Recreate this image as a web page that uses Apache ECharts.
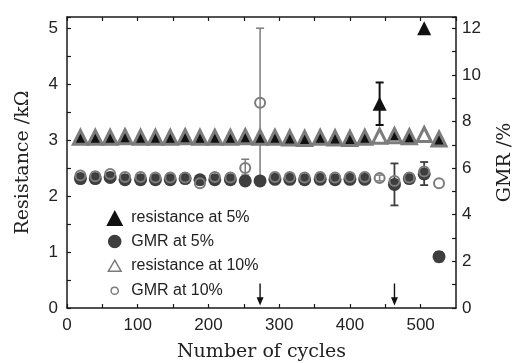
<!DOCTYPE html>
<html>
<head>
<meta charset="utf-8">
<script src="https://cdn.jsdelivr.net/npm/echarts@6/dist/echarts.min.js"></script>
<style>
  html, body { margin: 0; padding: 0; background: #fff; }
  #main { width: 516px; height: 363px; }
</style>
</head>
<body>
<div id="main"></div>
<script>
// cycle numbers of the measured points
const cycles = [19, 40, 61, 82, 104, 125, 146, 167, 188, 209, 231, 252, 273,
  294, 315, 336, 358, 379, 400, 421, 442, 463, 484, 505, 526];

// resistance (kOhm, left axis)
const res5 = [3.05, 3.05, 3.05, 3.06, 3.05, 3.05, 3.05, 3.06, 3.05, 3.05, 3.05, 3.06, 3.05,
  3.05, 3.04, 3.03, 3.05, 3.04, 3.03, 3.05, 3.65, 3.12, 3.06, 5.0, 3.0];
const res10 = [3.05, 3.05, 3.05, 3.06, 3.05, 3.05, 3.05, 3.06, 3.05, 3.05, 3.05, 3.06, 3.05,
  3.05, 3.04, 3.03, 3.05, 3.04, 3.03, 3.05, 3.07, 3.08, 3.06, 3.1, 3.02];

// GMR (%, right axis)
const gmr5 = [5.55, 5.55, 5.6, 5.5, 5.5, 5.5, 5.5, 5.55, 5.5, 5.5, 5.5, 5.45, 5.45,
  5.52, 5.52, 5.5, 5.52, 5.5, 5.52, 5.52, null, 5.3, 5.55, 5.75, 2.2];
const gmr10 = [5.68, 5.65, 5.75, 5.62, 5.62, 5.6, 5.6, 5.6, 5.35, 5.62, 5.6, 6.0, 8.8,
  5.62, 5.62, 5.6, 5.62, 5.6, 5.62, 5.62, 5.57, 5.45, 5.6, 5.85, 5.35];

// error bars: [cycle, low, high]
const res5Err = [[442, 3.27, 4.03]];
const gmr5Err = [[463, 4.4, 6.2], [505, 5.27, 6.26], [526, 2.0, 2.4]];
const gmr10Err = [[252, 5.7, 6.38], [273, 5.6, 12.0], [442, 5.45, 5.7]];

// arrows under the plot
const arrowCycles = [273, 463];

const xTicks = [0, 100, 200, 300, 400, 500];

const names = ['resistance at 5%', 'GMR at 5%', 'resistance at 10%', 'GMR at 10%'];

const grey = '#7c7c7c';
const dark = '#3e3e3e';
const ink = '#1a1a1a';

function pairs(ys) {
  return cycles.map((c, i) => [c, ys[i]]);
}

function errBar(color, width, cap) {
  return function (params, api) {
    const x = api.value(0);
    const a = api.coord([x, api.value(1)]);
    const b = api.coord([x, api.value(2)]);
    const st = { stroke: color, lineWidth: width };
    return {
      type: 'group',
      children: [
        { type: 'line', shape: { x1: a[0], y1: a[1], x2: b[0], y2: b[1] }, style: st },
        { type: 'line', shape: { x1: a[0] - cap, y1: a[1], x2: a[0] + cap, y2: a[1] }, style: st },
        { type: 'line', shape: { x1: b[0] - cap, y1: b[1], x2: b[0] + cap, y2: b[1] }, style: st }
      ]
    };
  };
}

const axisLine = { show: true, onZero: false, lineStyle: { color: ink, width: 1.5 } };
const tickStyle = { show: true, inside: true, length: 4, lineStyle: { color: ink, width: 1.2 } };
const labelFont = { fontFamily: 'Liberation Sans', fontSize: 17, color: '#222' };
const nameFont = { fontFamily: 'DejaVu Serif', fontSize: 19, color: '#222' };

const chart = echarts.init(document.getElementById('main'));
chart.setOption({
  animation: false,
  grid: { left: 67, right: 60, top: 17, bottom: 55, containLabel: false, outerBoundsMode: 'none' },
  legend: {
    orient: 'vertical',
    left: 101,
    top: 205,
    itemWidth: 17,
    itemHeight: 16,
    itemGap: 7.5,
    textStyle: { fontFamily: 'Liberation Sans', fontSize: 16, color: '#222', padding: [0, 0, 0, 3] },
    data: [
      { name: names[0] },
      { name: names[1], icon: 'path://M0,0M20,20M10,1.5A8.5,8.5,0,1,1,9.9,1.5Z' },
      { name: names[2], icon: 'path://M0,0M20,20M10,3L18,17L2,17Z', itemStyle: { borderWidth: 1.5 } },
      { name: names[3], icon: 'path://M0,0M20,20M10,5.5A4.5,4.5,0,1,1,9.9,5.5Z', itemStyle: { borderWidth: 1.5 } }
    ]
  },
  xAxis: [
    {
      type: 'value', min: 0, max: 550, interval: 50, position: 'bottom',
      axisLine: axisLine, axisTick: tickStyle, splitLine: { show: false },
      axisLabel: Object.assign({
        margin: 9,
        showMaxLabel: false,
        formatter: v => (xTicks.indexOf(v) >= 0 ? String(v) : '')
      }, labelFont),
      name: 'Number of cycles', nameLocation: 'middle', nameGap: 35,
      nameTextStyle: nameFont
    },
    {
      type: 'value', min: 0, max: 550, interval: 50, position: 'top',
      axisLine: axisLine, axisTick: tickStyle, splitLine: { show: false },
      axisLabel: { show: false }
    }
  ],
  yAxis: [
    {
      type: 'value', min: 0, max: 5.2, interval: 0.5, position: 'left',
      axisLine: axisLine, axisTick: tickStyle, splitLine: { show: false },
      axisLabel: Object.assign({
        margin: 9,
        formatter: v => (Math.abs(v - Math.round(v)) < 1e-6 ? String(Math.round(v)) : '')
      }, labelFont),
      name: 'Resistance /kΩ', nameLocation: 'middle', nameGap: 34, nameRotate: 90,
      nameTextStyle: nameFont
    },
    {
      type: 'value', min: 0, max: 12.48, interval: 1, position: 'right',
      axisLine: axisLine, axisTick: tickStyle, splitLine: { show: false },
      axisLabel: Object.assign({
        margin: 6,
        formatter: v => (Math.abs(v - Math.round(v)) < 1e-6 && Math.round(v) % 2 === 0 ? String(Math.round(v)) : '')
      }, labelFont),
      name: 'GMR /%', nameLocation: 'middle', nameGap: 40, nameRotate: 90,
      nameTextStyle: nameFont
    }
  ],
  series: [
    {
      name: names[0], type: 'scatter', yAxisIndex: 0, data: pairs(res5),
      symbol: 'triangle', symbolSize: 14,
      itemStyle: { color: '#111', opacity: 1 }
    },
    {
      name: names[1], type: 'scatter', yAxisIndex: 1, data: pairs(gmr5),
      symbol: 'circle', symbolSize: 13,
      itemStyle: { color: dark, opacity: 1 }
    },
    {
      name: names[2], type: 'scatter', yAxisIndex: 0, data: pairs(res10),
      symbol: 'triangle', symbolSize: 14,
      itemStyle: { color: 'rgba(0,0,0,0)', borderColor: grey, borderWidth: 3, opacity: 1 }
    },
    {
      name: names[3], type: 'scatter', yAxisIndex: 1, data: pairs(gmr10),
      symbol: 'circle', symbolSize: 10,
      itemStyle: { color: 'rgba(0,0,0,0)', borderColor: grey, borderWidth: 2, opacity: 1 }
    },
    {
      type: 'custom', yAxisIndex: 0, data: res5Err, clip: false,
      encode: { x: 0, y: [1, 2] }, renderItem: errBar('#111', 2, 4)
    },
    {
      type: 'custom', yAxisIndex: 1, data: gmr5Err, clip: false,
      encode: { x: 0, y: [1, 2] }, renderItem: errBar(dark, 1.8, 4)
    },
    {
      type: 'custom', yAxisIndex: 1, data: gmr10Err, clip: false,
      encode: { x: 0, y: [1, 2] }, renderItem: errBar(grey, 1.5, 4)
    },
    {
      type: 'scatter', yAxisIndex: 0,
      data: arrowCycles.map(c => [c, 0.24]),
      symbol: 'path://M4.3,0 L5.7,0 L5.7,15 L8.5,15 L5,24 L1.5,15 L4.3,15 Z',
      symbolSize: [7, 22],
      itemStyle: { color: '#111', opacity: 1 }
    }
  ]
});
</script>
</body>
</html>
